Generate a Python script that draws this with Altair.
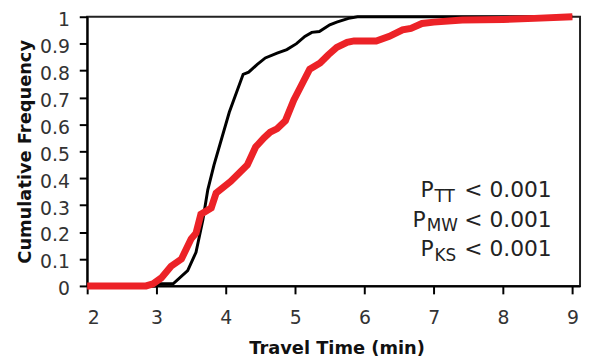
import altair as alt
import pandas as pd

# Control group (black) cumulative frequency
black_t = [2.0, 3.0, 3.03, 3.24, 3.45, 3.57, 3.67, 3.74, 3.83, 4.05, 4.25, 4.33, 4.45,
           4.57, 4.74, 4.88, 5.02, 5.14, 5.24, 5.35, 5.5, 5.6, 5.77, 5.9, 9.0]
black_f = [0.0, 0.0, 0.008, 0.008, 0.057, 0.125, 0.247, 0.357, 0.45, 0.645, 0.786, 0.794, 0.822,
           0.847, 0.865, 0.878, 0.90, 0.927, 0.942, 0.945, 0.97, 0.98, 0.994, 1.0, 1.0]

# Treatment group (red) cumulative frequency
red_t = [2.0, 2.85, 2.95, 3.07, 3.21, 3.36, 3.5, 3.57, 3.64, 3.79, 3.86, 4.07, 4.31, 4.43,
         4.55, 4.64, 4.74, 4.86, 4.98, 5.1, 5.21, 5.36, 5.48, 5.6, 5.75, 5.85, 6.17, 6.36,
         6.55, 6.67, 6.83, 7.0, 7.41, 8.0, 8.45, 9.0]
red_f = [0.0, 0.0, 0.008, 0.03, 0.073, 0.10, 0.175, 0.196, 0.266, 0.29, 0.345, 0.388, 0.449, 0.516,
         0.55, 0.571, 0.584, 0.614, 0.69, 0.75, 0.805, 0.828, 0.859, 0.886, 0.905, 0.91, 0.91, 0.927,
         0.951, 0.957, 0.975, 0.98, 0.988, 0.99, 0.994, 1.0]

x_ticks = [2, 3, 4, 5, 6, 7, 8, 9]
y_ticks = [0, 0.1, 0.2, 0.3, 0.4, 0.5, 0.6, 0.7, 0.8, 0.9, 1.0]

subscripts = ["TT", "MW", "KS"]
p_text = "< 0.001"

FONT = "DejaVu Sans"
RED = "#ec2227"

black_df = pd.DataFrame({"t": black_t, "f": black_f})
red_df = pd.DataFrame({"t": red_t, "f": red_f})

x_enc = alt.X("t:Q", scale=alt.Scale(domain=[2, 9.11], nice=False, zero=False),
              axis=alt.Axis(values=x_ticks, title="Travel Time (min)", format="d",
                            labelPadding=15, titleX=252, titleY=68,
                            titleBaseline="alphabetic", titleAlign="center"))
y_enc = alt.Y("f:Q", scale=alt.Scale(domain=[0, 1], nice=False),
              axis=alt.Axis(values=y_ticks, title="Cumulative Frequency", format=".1~f",
                            labelPadding=10, labelOffset=3, titleX=-57.5, titleY=136,
                            titleBaseline="alphabetic", titleAlign="center", titleAngle=-90))

black_line = alt.Chart(black_df).mark_line(color="black", strokeWidth=3).encode(
    x=x_enc, y=y_enc, order="t:Q")
red_line = alt.Chart(red_df).mark_line(color=RED, strokeWidth=7).encode(
    x=x_enc, y=y_enc, order="t:Q")

# annotation (positions in plot pixels)
p_right = [350, 342, 350]
base_y = [182, 212, 242]
ann_layers = []
for i, sub in enumerate(subscripts):
    d = pd.DataFrame({"p": ["P"], "sub": [sub], "v": [p_text]})
    ann_layers.append(alt.Chart(d).mark_text(align="right", baseline="alphabetic", font=FONT,
                                             fontSize=22, color="#222").encode(
        text="p:N", x=alt.value(p_right[i]), y=alt.value(base_y[i])))
    ann_layers.append(alt.Chart(d).mark_text(align="left", baseline="alphabetic", font=FONT,
                                             fontSize=17, color="#222").encode(
        text="sub:N", x=alt.value(p_right[i] + 1), y=alt.value(base_y[i] + 5)))
    ann_layers.append(alt.Chart(d).mark_text(align="left", baseline="alphabetic", font=FONT,
                                             fontSize=22, color="#222").encode(
        text="v:N", x=alt.value(381), y=alt.value(base_y[i])))

chart = alt.layer(black_line, red_line, *ann_layers).properties(
    width=498, height=272,
    autosize=alt.AutoSizeParams(type="none"),
    padding={"left": 80, "top": 7, "right": 3, "bottom": 72},
).configure_view(stroke="#222", strokeWidth=2).configure_axis(
    domainColor="black", domainWidth=2, tickColor="black", tickWidth=2, tickSize=8,
    grid=False, labelFont=FONT, labelFontSize=19, labelColor="#333",
    titleFont=FONT, titleFontSize=18, titleFontWeight="bold", titleColor="#111",
)

chart.save("out.html", embed_options={"renderer": "svg", "actions": False})
